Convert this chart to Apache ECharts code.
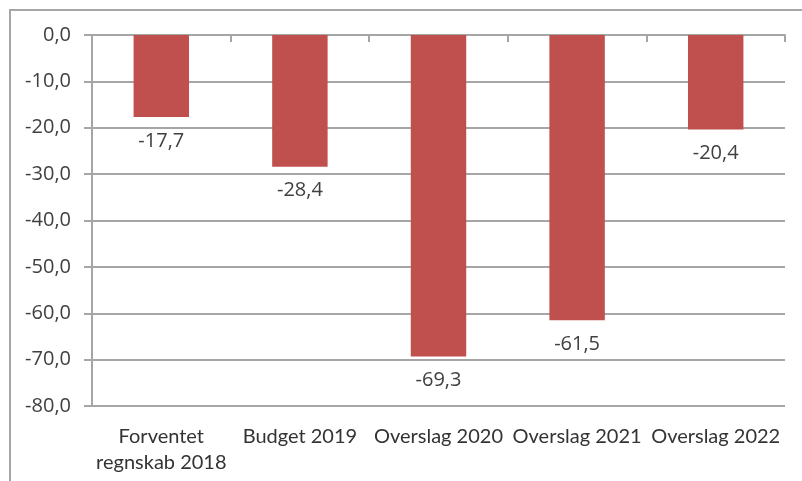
<!DOCTYPE html>
<html>
<head>
<meta charset="utf-8">
<script src="https://cdn.jsdelivr.net/npm/echarts@6/dist/echarts.min.js"></script>
<style>
  html, body { margin: 0; padding: 0; background: #fff; }
  #chart { width: 802px; height: 481px; }
</style>
</head>
<body>
<div id="chart"></div>
<script>
// Budget balance per year (mio. kr.)
var categories = ['Forventet\nregnskab 2018', 'Budget 2019', 'Overslag 2020', 'Overslag 2021', 'Overslag 2022'];
var values = [-17.7, -28.4, -69.3, -61.5, -20.4];
var yTicks = { min: -80, max: 0, interval: 10 };

function danish(v) {
  return v.toFixed(1).replace('.', ',');
}

var chart = echarts.init(document.getElementById('chart'), null, { renderer: 'canvas' });

chart.setOption({
  animation: false,
  backgroundColor: '#ffffff',
  grid: { left: 92, right: 17, top: 35, bottom: 75, containLabel: false },
  graphic: [{
    type: 'rect',
    shape: { x: 10, y: 10, width: 900, height: 600 },
    style: { fill: 'none', stroke: '#a6a6a6', lineWidth: 2 },
    silent: true
  }],
  xAxis: [
    {
      // zero line at the top, ticks pointing down between categories
      type: 'category',
      data: categories,
      position: 'top',
      axisLine: { show: true, lineStyle: { color: '#a6a6a6', width: 2 } },
      axisTick: { show: true, inside: true, length: 7, alignWithLabel: false, lineStyle: { color: '#a6a6a6', width: 2 } },
      axisLabel: { show: false },
      splitLine: { show: false }
    },
    {
      // category labels along the bottom
      type: 'category',
      data: categories,
      position: 'bottom',
      axisLine: { show: false },
      axisTick: { show: false },
      axisLabel: {
        show: true,
        interval: 0,
        margin: 18,
        fontFamily: 'Lato',
        fontSize: 20,
        lineHeight: 26,
        color: '#333333'
      },
      splitLine: { show: false }
    }
  ],
  yAxis: {
    type: 'value',
    min: yTicks.min,
    max: yTicks.max,
    interval: yTicks.interval,
    axisLine: { show: true, lineStyle: { color: '#a6a6a6', width: 2 } },
    axisTick: { show: true, length: 8, lineStyle: { color: '#a6a6a6', width: 2 } },
    axisLabel: {
      margin: 21,
      fontFamily: 'Open Sans',
      fontSize: 20,
      color: '#404040',
      formatter: function (v) { return danish(v); }
    },
    splitLine: { show: true, lineStyle: { color: '#a6a6a6', width: 2 } }
  },
  series: [{
    type: 'bar',
    xAxisIndex: 1,
    data: values,
    barCategoryGap: '60%',
    itemStyle: { color: '#c0504d' },
    label: {
      show: true,
      position: 'bottom',
      distance: 14,
      fontFamily: 'Open Sans',
      fontSize: 20,
      color: '#404040',
      formatter: function (p) { return danish(p.value); }
    }
  }]
});
</script>
</body>
</html>
